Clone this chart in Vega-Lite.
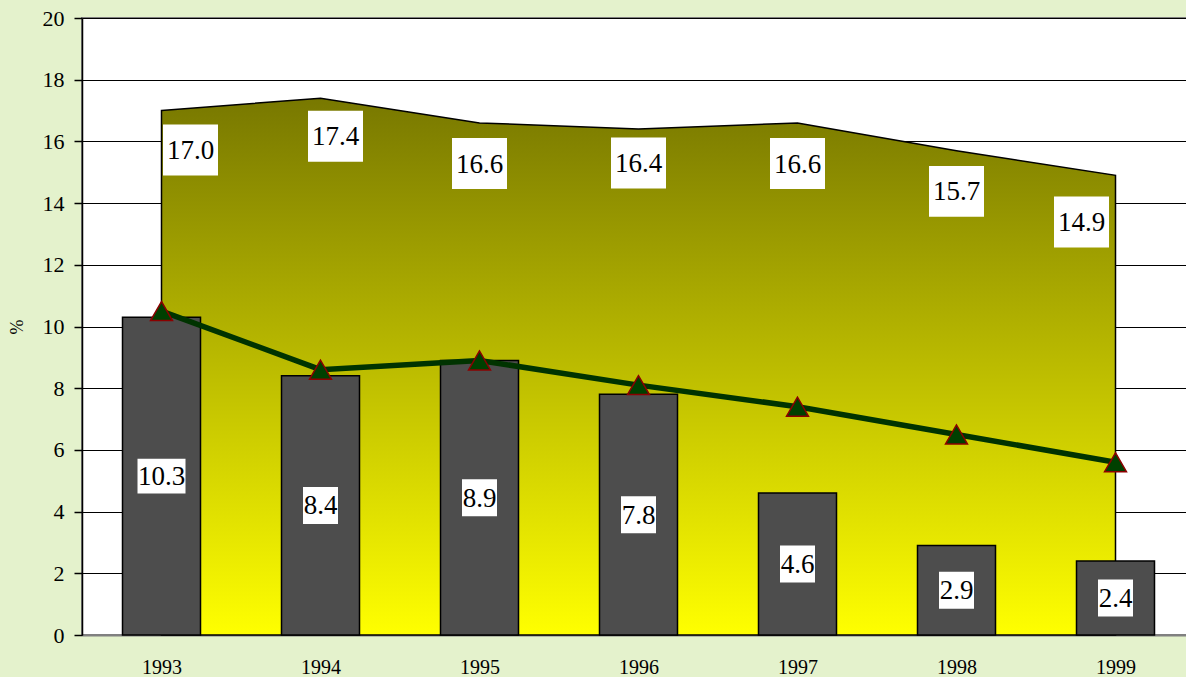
{
  "$schema": "https://vega.github.io/schema/vega-lite/v6.json",
  "width": 1113,
  "height": 617,
  "autosize": {"type": "none"},
  "padding": {"left": 82, "top": 18, "right": 0, "bottom": 42},
  "background": "#e4f2cc",
  "config": {
    "view": {"fill": "white", "stroke": "#808080", "strokeWidth": 2},
    "font": "Liberation Serif, Times New Roman, serif",
    "text": {"font": "Liberation Serif, Times New Roman, serif"},
    "axis": {"labelFont": "Liberation Serif, Times New Roman, serif", "titleFont": "Liberation Serif, Times New Roman, serif", "labelColor": "black", "titleColor": "black"}
  },
  "data": {
    "values": [
      {"year": 1993, "total": 17.0, "bar": 10.3, "line": 10.5},
      {"year": 1994, "total": 17.4, "bar": 8.4, "line": 8.6},
      {"year": 1995, "total": 16.6, "bar": 8.9, "line": 8.9},
      {"year": 1996, "total": 16.4, "bar": 7.8, "line": 8.1},
      {"year": 1997, "total": 16.6, "bar": 4.6, "line": 7.4},
      {"year": 1998, "total": 15.7, "bar": 2.9, "line": 6.5},
      {"year": 1999, "total": 14.9, "bar": 2.4, "line": 5.6}
    ]
  },
  "resolve": {"scale": {"x": "independent", "y": "independent"}},
  "layer": [
    {
      "mark": {
        "type": "area",
        "stroke": "black",
        "strokeWidth": 1.5,
        "color": {
          "gradient": "linear", "x1": 0, "y1": 0, "x2": 0, "y2": 1,
          "stops": [{"offset": 0, "color": "#787800"}, {"offset": 1, "color": "#ffff00"}]
        }
      },
      "encoding": {
        "x": {"field": "year", "type": "ordinal", "scale": {"domain": [1993, 1994, 1995, 1996, 1997, 1998, 1999], "paddingInner": 0, "paddingOuter": 0},
          "axis": {"title": null, "labelAngle": 0, "ticks": false, "domainColor": "#808080", "domainWidth": 2, "labelFontSize": 20, "labelPadding": 22}},
        "y": {"field": "total", "type": "quantitative", "scale": {"domain": [0, 20], "nice": false},
          "axis": {"title": "%", "titleFontSize": 18, "titleFontWeight": "normal", "titlePadding": 16, "values": [0, 2, 4, 6, 8, 10, 12, 14, 16, 18, 20],
            "grid": true, "gridColor": "black", "gridWidth": 1, "gridOpacity": 1, "domainColor": "black", "domainWidth": 1.5,
            "tickColor": "black", "tickSize": 8, "tickWidth": 1.5, "labelFontSize": 22, "labelPadding": 10}}
      }
    },
    {
      "mark": {"type": "bar", "size": 78, "fill": "#4d4d4d", "stroke": "black", "strokeWidth": 1.5},
      "encoding": {
        "x": {"field": "year", "type": "ordinal", "scale": {"domain": [1993, 1994, 1995, 1996, 1997, 1998, 1999], "paddingInner": 0, "paddingOuter": 0}, "axis": null},
        "y": {"field": "bar", "type": "quantitative", "scale": {"domain": [0, 20], "nice": false}, "axis": null}
      }
    },
    {
      "mark": {"type": "line", "color": "#003300", "strokeWidth": 5.5},
      "encoding": {
        "x": {"field": "year", "type": "ordinal", "scale": {"domain": [1993, 1994, 1995, 1996, 1997, 1998, 1999], "paddingInner": 0, "paddingOuter": 0}, "axis": null},
        "y": {"field": "line", "type": "quantitative", "scale": {"domain": [0, 20], "nice": false}, "axis": null}
      }
    },
    {
      "mark": {"type": "point", "shape": "triangle-up", "size": 480, "filled": true, "fill": "#004000", "stroke": "#8b0000", "strokeWidth": 1.5, "opacity": 1},
      "encoding": {
        "x": {"field": "year", "type": "ordinal", "scale": {"domain": [1993, 1994, 1995, 1996, 1997, 1998, 1999], "paddingInner": 0, "paddingOuter": 0}, "axis": null},
        "y": {"field": "line", "type": "quantitative", "scale": {"domain": [0, 20], "nice": false}, "axis": null}
      }
    },
    {
      "transform": [{"filter": "datum.year != 1993"}],
      "mark": {"type": "point", "shape": "M-0.946,-1H0.946V1H-0.946Z", "size": 1369, "filled": true, "fill": "white", "strokeWidth": 0, "opacity": 1},
      "encoding": {
        "x": {"field": "year", "type": "ordinal", "scale": {"domain": [1993, 1994, 1995, 1996, 1997, 1998, 1999], "paddingInner": 0, "paddingOuter": 0}, "axis": null},
        "y": {"field": "bar", "type": "quantitative", "scale": {"domain": [0, 40], "nice": false}, "axis": null}
      }
    },
    {
      "transform": [{"filter": "datum.year == 1993"}],
      "mark": {"type": "point", "shape": "M-1,-0.729H1V0.729H-1Z", "size": 2304, "filled": true, "fill": "white", "strokeWidth": 0, "opacity": 1},
      "encoding": {
        "x": {"field": "year", "type": "ordinal", "scale": {"domain": [1993, 1994, 1995, 1996, 1997, 1998, 1999], "paddingInner": 0, "paddingOuter": 0}, "axis": null},
        "y": {"field": "bar", "type": "quantitative", "scale": {"domain": [0, 40], "nice": false}, "axis": null}
      }
    },
    {
      "mark": {"type": "text", "font": "Liberation Serif, Times New Roman, serif", "fontSize": 27, "baseline": "middle", "align": "center", "color": "black", "dy": 1},
      "encoding": {
        "x": {"field": "year", "type": "ordinal", "scale": {"domain": [1993, 1994, 1995, 1996, 1997, 1998, 1999], "paddingInner": 0, "paddingOuter": 0}, "axis": null},
        "y": {"field": "bar", "type": "quantitative", "scale": {"domain": [0, 40], "nice": false}, "axis": null},
        "text": {"field": "bar", "type": "quantitative", "format": ".1f"}
      }
    },
    {
      "transform": [{"filter": "datum.year == 1993"}],
      "encoding": {
        "x": {"field": "year", "type": "ordinal", "scale": {"domain": [1993, 1994, 1995, 1996, 1997, 1998, 1999], "paddingInner": 0, "paddingOuter": 0, "range": [29, 1142]}, "axis": null},
        "y": {"field": "total", "type": "quantitative", "scale": {"domain": [1.28, 21.28], "nice": false}, "axis": null}
      },
      "layer": [
        {"mark": {"type": "point", "shape": "M-1,-0.927H1V0.927H-1Z", "size": 3025, "filled": true, "fill": "white", "strokeWidth": 0, "opacity": 1}},
        {"mark": {"type": "text", "font": "Liberation Serif, Times New Roman, serif", "fontSize": 27, "baseline": "middle", "align": "center", "color": "black", "dy": 1},
          "encoding": {"text": {"field": "total", "type": "quantitative", "format": ".1f"}}}
      ]
    },
    {
      "transform": [{"filter": "datum.year == 1994"}],
      "encoding": {
        "x": {"field": "year", "type": "ordinal", "scale": {"domain": [1993, 1994, 1995, 1996, 1997, 1998, 1999], "paddingInner": 0, "paddingOuter": 0, "range": [15, 1128]}, "axis": null},
        "y": {"field": "total", "type": "quantitative", "scale": {"domain": [1.23, 21.23], "nice": false}, "axis": null}
      },
      "layer": [
        {"mark": {"type": "point", "shape": "M-1,-0.927H1V0.927H-1Z", "size": 3025, "filled": true, "fill": "white", "strokeWidth": 0, "opacity": 1}},
        {"mark": {"type": "text", "font": "Liberation Serif, Times New Roman, serif", "fontSize": 27, "baseline": "middle", "align": "center", "color": "black", "dy": 1},
          "encoding": {"text": {"field": "total", "type": "quantitative", "format": ".1f"}}}
      ]
    },
    {
      "transform": [{"filter": "datum.year == 1995 || datum.year == 1997 || datum.year == 1998"}],
      "encoding": {
        "x": {"field": "year", "type": "ordinal", "scale": {"domain": [1993, 1994, 1995, 1996, 1997, 1998, 1999], "paddingInner": 0, "paddingOuter": 0}, "axis": null},
        "y": {"field": "total", "type": "quantitative", "scale": {"domain": [1.32, 21.32], "nice": false}, "axis": null}
      },
      "layer": [
        {"mark": {"type": "point", "shape": "M-1,-0.927H1V0.927H-1Z", "size": 3025, "filled": true, "fill": "white", "strokeWidth": 0, "opacity": 1}},
        {"mark": {"type": "text", "font": "Liberation Serif, Times New Roman, serif", "fontSize": 27, "baseline": "middle", "align": "center", "color": "black", "dy": 1},
          "encoding": {"text": {"field": "total", "type": "quantitative", "format": ".1f"}}}
      ]
    },
    {
      "transform": [{"filter": "datum.year == 1996"}],
      "encoding": {
        "x": {"field": "year", "type": "ordinal", "scale": {"domain": [1993, 1994, 1995, 1996, 1997, 1998, 1999], "paddingInner": 0, "paddingOuter": 0}, "axis": null},
        "y": {"field": "total", "type": "quantitative", "scale": {"domain": [1.1, 21.1], "nice": false}, "axis": null}
      },
      "layer": [
        {"mark": {"type": "point", "shape": "M-1,-0.927H1V0.927H-1Z", "size": 3025, "filled": true, "fill": "white", "strokeWidth": 0, "opacity": 1}},
        {"mark": {"type": "text", "font": "Liberation Serif, Times New Roman, serif", "fontSize": 27, "baseline": "middle", "align": "center", "color": "black", "dy": 1},
          "encoding": {"text": {"field": "total", "type": "quantitative", "format": ".1f"}}}
      ]
    },
    {
      "transform": [{"filter": "datum.year == 1999"}],
      "encoding": {
        "x": {"field": "year", "type": "ordinal", "scale": {"domain": [1993, 1994, 1995, 1996, 1997, 1998, 1999], "paddingInner": 0, "paddingOuter": 0, "range": [-34, 1079]}, "axis": null},
        "y": {"field": "total", "type": "quantitative", "scale": {"domain": [1.51, 21.51], "nice": false}, "axis": null}
      },
      "layer": [
        {"mark": {"type": "point", "shape": "M-1,-0.927H1V0.927H-1Z", "size": 3025, "filled": true, "fill": "white", "strokeWidth": 0, "opacity": 1}},
        {"mark": {"type": "text", "font": "Liberation Serif, Times New Roman, serif", "fontSize": 27, "baseline": "middle", "align": "center", "color": "black", "dy": 1},
          "encoding": {"text": {"field": "total", "type": "quantitative", "format": ".1f"}}}
      ]
    }
  ]
}
